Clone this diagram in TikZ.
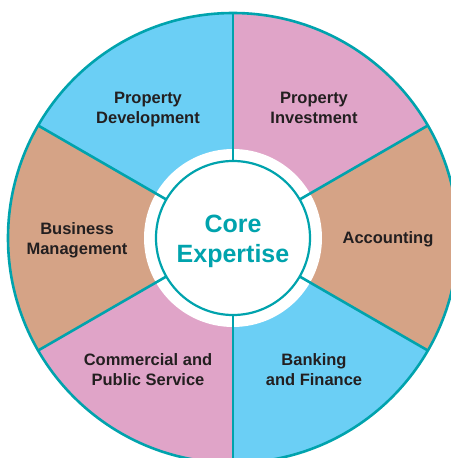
\documentclass[tikz,border=0pt]{standalone}
\usepackage{fontspec}
\setmainfont{Liberation Sans}
\definecolor{sky}{RGB}{107,207,245}
\definecolor{rose}{RGB}{224,164,200}
\definecolor{sand}{RGB}{213,163,134}
\definecolor{teal}{RGB}{0,163,173}
\definecolor{ink}{RGB}{35,31,32}
\tikzset{rim/.style={draw=teal,line width=2.6pt}}

\begin{document}
\begin{tikzpicture}[x=1pt,y=1pt,
    every node/.style={font=\bfseries\fontsize{16.5}{20}\selectfont,align=center,text=ink}]
  \useasboundingbox (-233,-220) rectangle (217,238);

  % segments
  \foreach \a/\c in {90/sky,30/rose,-30/sand,-90/sky,-150/rose,150/sand}
    \fill[\c] (0,0) -- (\a:225) arc[start angle=\a,delta angle=60,radius=225] -- cycle;
  \fill[white] (0,0) circle[radius=89];
  \foreach \a in {30,90,...,330}
    \draw[rim] (\a:77) -- (\a:225);
  \draw[rim] (0,0) circle[radius=225];
  \draw[rim,line width=2.2pt,fill=white] (0,0) circle[radius=77];

  % labels
  \node at (-85,128) (devel) {Property\\Development};
  \node at (81,130) (invest) {Property\\Investment};
  \node at (-156,-2) (business) {Business\\Management};
  \node at (155,-1) (account) {Accounting};
  \node at (-85,-132) (public) {Commercial and\\Public Service};
  \node at (81,-132) (banking) {Banking\\and Finance};

  \node[text=teal,font=\bfseries\fontsize{25}{30}\selectfont] at (0,-3) (core) {Core\\Expertise};
\end{tikzpicture}
\end{document}
